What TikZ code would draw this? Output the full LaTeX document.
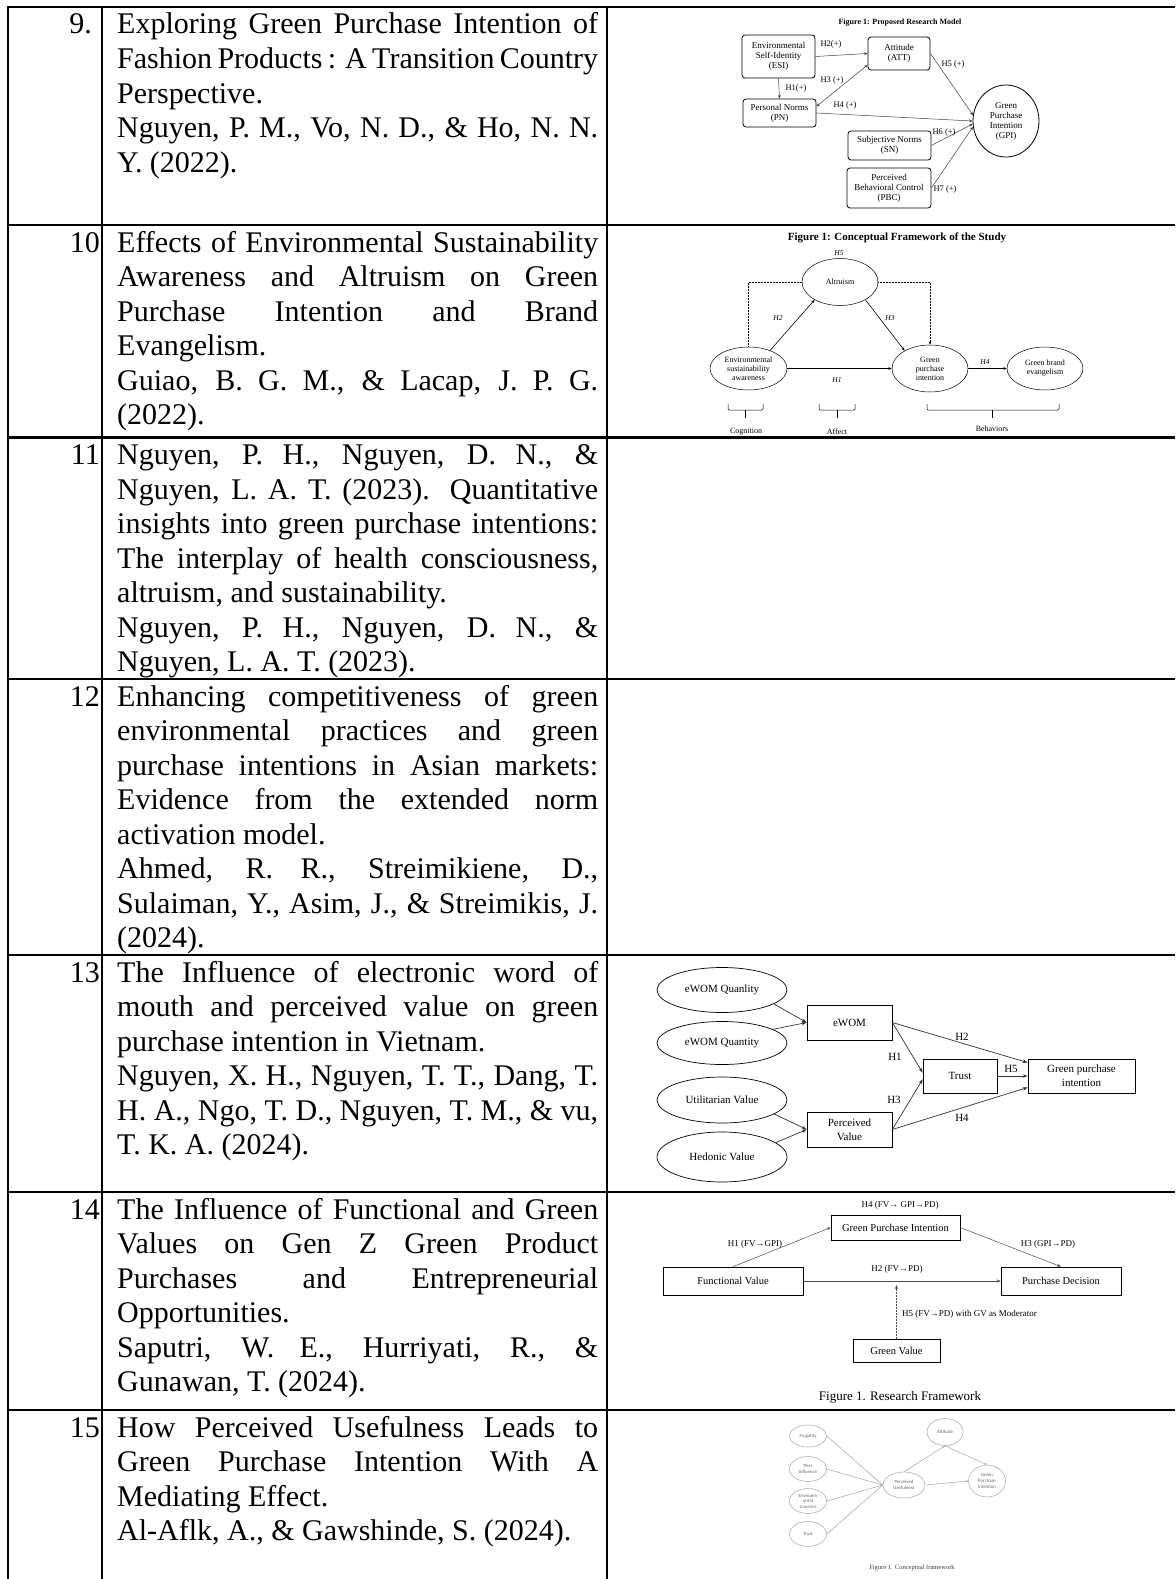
\documentclass[tikz,border=0pt]{standalone}
\usepackage{fontspec}
\setmainfont{Liberation Serif}
\newfontfamily\calib{Carlito}
\usetikzlibrary{arrows.meta,shapes.geometric}
\newcommand\tabfont{\fontsize{30}{34.5}\selectfont}
\newcommand\jline[3]{\node[tline] (#1) at (117,#2) {\makebox[481pt][s]{#3}};}
\newcommand\lline[3]{\node[tline] (#1) at (117,#2) {#3};}
\newcommand\numcell[4]{\node[numstyle] (#1) at (#2,#3) {#4};}
\begin{document}
\begin{tikzpicture}[x=1pt,y=-1pt,
 tline/.style={anchor=base west,inner sep=0pt,font=\tabfont},
 numstyle/.style={anchor=base east,inner sep=0pt,font=\tabfont},
 gridline/.style={line width=2.2pt},
 f9box/.style={draw,rounded corners=3pt,line width=0.8pt,align=center,inner sep=0pt,font=\fontsize{9}{10}\selectfont},
 f9lab/.style={inner sep=0pt,font=\fontsize{8.5}{10}\selectfont},
 f9arr/.style={draw=black!75,line width=0.5pt,>={Stealth[length=3.5pt,width=2.8pt]},->},
 f10ell/.style={draw,ellipse,line width=0.5pt,align=center,inner sep=0pt,font=\fontsize{8}{9}\selectfont},
 f10lab/.style={inner sep=0pt,font=\fontsize{7.5}{9}\selectfont\itshape},
 f10arr/.style={line width=0.6pt,>={Stealth[length=3.5pt,width=2.8pt]},->},
 f10dot/.style={line width=0.5pt,densely dotted,>={Stealth[length=3.5pt,width=2.8pt]}},
 f10br/.style={line width=0.5pt,rounded corners=1pt},
 f10cap/.style={inner sep=0pt,font=\fontsize{8}{9}\selectfont},
 f13ell/.style={draw,ellipse,line width=0.7pt,inner sep=0pt,font=\fontsize{11}{14}\selectfont},
 f13box/.style={draw,rectangle,line width=0.7pt,align=center,inner sep=0pt,font=\fontsize{11}{14}\selectfont},
 f13arr/.style={line width=0.7pt,draw=black!80,>={Stealth[length=5pt,width=3.5pt]},->},
 f13lab/.style={inner sep=0pt,font=\fontsize{11}{13}\selectfont},
 f14box/.style={draw,line width=0.6pt,inner sep=0pt,font=\fontsize{10.5}{12}\selectfont},
 f14lab/.style={inner sep=0pt,font=\fontsize{9}{11}\selectfont},
 f14arr/.style={line width=0.5pt,draw=black!70,>={Stealth[length=4pt,width=3pt]},->},
 f15ell/.style={draw=black!30,ellipse,line width=0.6pt,align=center,inner sep=0pt,text=black!60,font=\calib\fontsize{4.8}{5.6}\selectfont},
 f15arr/.style={draw=black!35,line width=0.5pt,>={Stealth[length=2.5pt,width=2pt]},->},
 f15line/.style={draw=black!35,line width=0.5pt}
]
\fill[white] (0,0) rectangle (1175,1579);
\useasboundingbox (0,0) rectangle (1175,1579);

% ---------- table grid ----------
\foreach \yy in {7,225,437.5,679,955,1192,1410}{\draw[gridline] (7,\yy) -- (1175,\yy);}
\foreach \xx in {8,102,607}{\draw[gridline] (\xx,6) -- (\xx,1579);}

% ---------- numbers ----------
\numcell{n9}{92}{34}{9.}
\numcell{n10}{100}{252}{10}
\numcell{n11}{100}{464.5}{11}
\numcell{n12}{100}{706}{12}
\numcell{n13}{100}{982}{13}
\numcell{n14}{100}{1219}{14}
\numcell{n15}{100}{1437}{15}

% ---------- row 9 ----------
\jline{r9a}{34}{Exploring Green Purchase Intention of}
\jline{r9b}{68.5}{Fashion Products : A Transition Country}
\lline{r9c}{103}{Perspective.}
\jline{r9d}{137.5}{Nguyen, P. M., Vo, N. D., \& Ho, N. N.}
\lline{r9e}{172}{Y. (2022).}

% ---------- row 10 ----------
\jline{r10a}{252}{Effects of Environmental Sustainability}
\jline{r10b}{286.5}{Awareness and Altruism on Green}
\jline{r10c}{321}{Purchase Intention and Brand}
\lline{r10d}{355.5}{Evangelism.}
\jline{r10e}{390}{Guiao, B. G. M., \& Lacap, J. P. G.}
\lline{r10f}{424.5}{(2022).}

% ---------- row 11 ----------
\jline{r11a}{464.5}{Nguyen, P. H., Nguyen, D. N., \&}
\jline{r11b}{499}{Nguyen, L. A. T. (2023). Quantitative}
\jline{r11c}{533.5}{insights into green purchase intentions:}
\jline{r11d}{568}{The interplay of health consciousness,}
\lline{r11e}{602.5}{altruism, and sustainability.}
\jline{r11f}{637}{Nguyen, P. H., Nguyen, D. N., \&}
\lline{r11g}{671.5}{Nguyen, L. A. T. (2023).}

% ---------- row 12 ----------
\jline{r12a}{706}{Enhancing competitiveness of green}
\jline{r12b}{740.5}{environmental practices and green}
\jline{r12c}{775}{purchase intentions in Asian markets:}
\jline{r12d}{809.5}{Evidence from the extended norm}
\lline{r12e}{844}{activation model.}
\jline{r12f}{878.5}{Ahmed, R. R., Streimikiene, D.,}
\jline{r12g}{913}{Sulaiman, Y., Asim, J., \& Streimikis, J.}
\lline{r12h}{947.5}{(2024).}

% ---------- row 13 ----------
\jline{r13a}{982}{The Influence of electronic word of}
\jline{r13b}{1016.5}{mouth and perceived value on green}
\lline{r13c}{1051}{purchase intention in Vietnam.}
\jline{r13d}{1085.5}{Nguyen, X. H., Nguyen, T. T., Dang, T.}
\jline{r13e}{1120}{H. A., Ngo, T. D., Nguyen, T. M., \& vu,}
\lline{r13f}{1154.5}{T. K. A. (2024).}

% ---------- row 14 ----------
\jline{r14a}{1219}{The Influence of Functional and Green}
\jline{r14b}{1253.5}{Values on Gen Z Green Product}
\jline{r14c}{1288}{Purchases and Entrepreneurial}
\lline{r14d}{1322.5}{Opportunities.}
\jline{r14e}{1357}{Saputri, W. E., Hurriyati, R., \&}
\lline{r14f}{1391.5}{Gunawan, T. (2024).}

% ---------- row 15 ----------
\jline{r15a}{1437}{How Perceived Usefulness Leads to}
\jline{r15b}{1471.5}{Green Purchase Intention With A}
\lline{r15c}{1506}{Mediating Effect.}
\lline{r15d}{1540.5}{Al-Aflk, A., \& Gawshinde, S. (2024).}

% ---------- figure row 9 ----------
\node[font=\bfseries\fontsize{8}{9}\selectfont,inner sep=0pt] (t9) at (900,23) {Figure 1: Proposed Research Model};
\node[f9box,minimum width=73pt,minimum height=43pt] (esi) at (778.5,56.5) {Environmental\\Self-Identity\\(ESI)};
\node[f9box,minimum width=62pt,minimum height=33pt] (att) at (899,53.5) {Attitude\\(ATT)};
\node[f9box,minimum width=73pt,minimum height=28pt] (pn) at (779.5,113) {Personal Norms\\(PN)};
\node[f9box,minimum width=83pt,minimum height=29pt] (sn) at (889.5,145.5) {Subjective Norms\\(SN)};
\node[f9box,minimum width=84pt,minimum height=40pt] (pbc) at (889,188) {Perceived\\Behavioral Control\\(PBC)};
\node[f9box,ellipse,rounded corners=0pt,minimum width=66pt,minimum height=72pt] (gpi9) at (1006,121) {Green\\Purchase\\Intention\\(GPI)};
\draw[f9arr] (esi.east) -- (att.west);
\draw[f9arr] (esi.south) -- (pn.north);
\draw[f9arr,<->] (pn.10) -- (att.200);
\draw[f9arr] (pn.east) -- (gpi9.180);
\draw[f9arr] (att.east) -- (gpi9.170);
\draw[f9arr] (sn.east) -- (gpi9.185);
\draw[f9arr] (pbc.east) -- (gpi9.190);
\node[f9lab] (h2a) at (831,44) {H2(+)};
\node[f9lab] (h1a) at (796,88) {H1(+)};
\node[f9lab] (h3a) at (832,80) {H3 (+)};
\node[f9lab] (h4a) at (845,105) {H4 (+)};
\node[f9lab] (h5a) at (953,64) {H5 (+)};
\node[f9lab] (h6a) at (944,132) {H6 (+)};
\node[f9lab] (h7a) at (945,189) {H7 (+)};

% ---------- figure row 10 ----------
\node[font=\bfseries\fontsize{11}{12}\selectfont,inner sep=0pt] (t10) at (897,238) {Figure 1: Conceptual Framework of the Study};
\node[f10ell,minimum width=76pt,minimum height=47pt] (alt) at (840,282) {Altruism};
\node[f10ell,minimum width=77pt,minimum height=43pt] (esa) at (748.5,368.5) {Environmental\\sustainability\\awareness};
\node[f10ell,minimum width=76pt,minimum height=47pt] (gpi10) at (930,368.5) {Green\\purchase\\intention};
\node[f10ell,minimum width=76pt,minimum height=43pt] (gbe) at (1045,368.5) {Green brand\\evangelism};
\draw[f10dot] (alt.west) -| (esa.north);
\draw[f10dot,->] (alt.east) -| (gpi10.north);
\draw[f10arr] (esa.40) -- (alt.215);
\draw[f10arr] (alt.-35) -- (gpi10.145);
\draw[f10arr] (esa.east) -- (gpi10.west);
\draw[f10arr] (gpi10.east) -- (gbe.west);
\node[f10lab] (l10h5) at (839,253) {H5};
\node[f10lab] (l10h2) at (778,318) {H2};
\node[f10lab] (l10h3) at (890,318) {H3};
\node[f10lab] (l10h1) at (837,380) {H1};
\node[f10lab] (l10h4) at (985,362) {H4};
\draw[f10br] (728,404) -- (728,410) -- (763,410) -- (763,404);
\draw[f10br] (745.5,410) -- (745.5,418);
\draw[f10br] (819,404) -- (819,410) -- (855,410) -- (855,404);
\draw[f10br] (837,410) -- (837,418);
\draw[f10br] (927,404) -- (927,410) -- (1059,410) -- (1059,404);
\draw[f10br] (992,410) -- (992,418);
\node[f10cap] (cog) at (746,432) {Cognition};
\node[f10cap] (aff) at (837,432) {Affect};
\node[f10cap] (beh) at (992,429) {Behaviors};

% ---------- figure row 13 ----------
\node[f13ell,minimum width=130pt,minimum height=45pt] (e1) at (722,990) {eWOM Quanlity};
\node[f13ell,minimum width=130pt,minimum height=43pt] (e2) at (722,1043) {eWOM Quantity};
\node[f13ell,minimum width=130pt,minimum height=46pt] (e3) at (722,1100) {Utilitarian Value};
\node[f13ell,minimum width=130pt,minimum height=50pt] (e4) at (722,1157) {Hedonic Value};
\node[f13box,minimum width=85pt,minimum height=35pt] (ewom) at (849.5,1022.5) {eWOM};
\node[f13box,minimum width=85pt,minimum height=35pt] (pv) at (849.5,1129.5) {Perceived\\Value};
\node[f13box,minimum width=74pt,minimum height=34pt] (trust) at (960,1076) {Trust};
\node[f13box,minimum width=107pt,minimum height=34pt] (gpi13) at (1081.5,1076) {Green purchase\\intention};
\draw[f13arr] (e1.-15) -- (ewom.west);
\draw[f13arr] (e2.15) -- (ewom.west);
\draw[f13arr] (e3.-15) -- (pv.west);
\draw[f13arr] (e4.15) -- (pv.west);
\draw[f13arr] (ewom.east) -- (trust.175);
\draw[f13arr] (ewom.east) -- (gpi13.166);
\draw[f13arr] (pv.east) -- (trust.185);
\draw[f13arr] (pv.east) -- (gpi13.192);
\draw[f13arr] (trust.east) -- (gpi13.west);
\node[f13lab] (l13h1) at (895,1057) {H1};
\node[f13lab] (l13h2) at (962,1037) {H2};
\node[f13lab] (l13h3) at (894,1100) {H3};
\node[f13lab] (l13h4) at (962,1118) {H4};
\node[f13lab] (l13h5) at (1011,1069) {H5};

% ---------- figure row 14 ----------
\node[f14box,minimum width=140pt,minimum height=28pt] (fv) at (733,1281) {Functional Value};
\node[f14box,minimum width=129pt,minimum height=25pt] (gpi14) at (895.5,1227.5) {Green Purchase Intention};
\node[f14box,minimum width=120pt,minimum height=28pt] (pd) at (1061,1281) {Purchase Decision};
\node[f14box,minimum width=87pt,minimum height=23pt] (gv) at (896.5,1350.5) {Green Value};
\coordinate (h5tip) at (896.5,1285);
\draw[f14arr] (fv.north) -- (gpi14.west);
\draw[f14arr] (gpi14.east) -- (pd.north);
\draw[f14arr] (fv.east) -- (pd.west);
\draw[f14arr,densely dotted] (gv.north) -- (h5tip);
\node[f14lab] (l14h4) at (900,1205) {H4 (FV→ GPI→PD)};
\node[f14lab] (l14h1) at (755,1244) {H1 (FV→GPI)};
\node[f14lab] (l14h3) at (1048,1244) {H3 (GPI→PD)};
\node[f14lab] (l14h2) at (897,1269) {H2 (FV→PD)};
\node[f14lab,anchor=west] (l14h5) at (902,1314) {H5 (FV→PD) with GV as Moderator};
\node[inner sep=0pt,font=\fontsize{13}{15}\selectfont] (cap14) at (900,1397) {Figure 1. Research Framework};

% ---------- figure row 15 ----------
\node[f15ell,minimum width=37pt,minimum height=22pt] (frug) at (808,1436) {Frugality};
\node[f15ell,minimum width=37pt,minimum height=25pt] (peer) at (808,1469) {Peer\\Influence};
\node[f15ell,minimum width=37pt,minimum height=25pt] (envc) at (808,1501) {Environm\\ental\\Concern};
\node[f15ell,minimum width=37pt,minimum height=25pt] (tr15) at (808,1534) {Trust};
\node[f15ell,minimum width=42pt,minimum height=26pt] (pu) at (904,1485) {Perceived\\Usefulness};
\node[f15ell,minimum width=36pt,minimum height=27pt] (att15) at (945,1432) {Attitude};
\node[f15ell,minimum width=37pt,minimum height=32pt] (gpi15) at (987,1481) {Green\\Purchase\\Intention};
\draw[f15line] (frug.east) -- (pu.west);
\draw[f15line] (peer.east) -- (pu.west);
\draw[f15line] (envc.east) -- (pu.west);
\draw[f15line] (tr15.east) -- (pu.west);
\draw[f15arr] (pu.north) -- (att15.south);
\draw[f15arr] (att15.south) -- (gpi15.north);
\draw[f15arr] (pu.east) -- (gpi15.west);
\node[inner sep=0pt,text=black!75,font=\fontsize{6.5}{8}\selectfont] (cap15) at (912,1568) {Figure 1. Conceptual framework};
\end{tikzpicture}
\end{document}
